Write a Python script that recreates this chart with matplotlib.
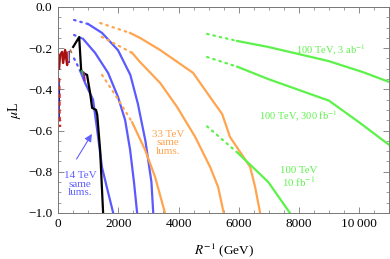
import matplotlib
matplotlib.use("Agg")
import matplotlib.pyplot as plt
from matplotlib.ticker import MultipleLocator, FixedLocator

plt.rcParams['font.family'] = ['Liberation Serif', 'DejaVu Serif']
plt.rcParams['mathtext.fontset'] = 'stix'

# 14 TeV (синие)
b1_dot_x = [530, 650, 760]
b1_dot_y = [-0.25, -0.285, -0.32]
b1_x = [760, 900, 1160, 1300, 1460, 1660, 1830]
b1_y = [-0.32, -0.37, -0.45, -0.6, -0.78, -0.9, -1.0]
b2_dot_x = [530, 830]
b2_dot_y = [-0.136, -0.155]
b2_x = [830, 1230, 1660, 1990, 2226, 2392, 2520, 2625]
b2_y = [-0.155, -0.223, -0.32, -0.437, -0.549, -0.694, -0.85, -1.0]
b3_dot_x = [530, 1000]
b3_dot_y = [-0.063, -0.083]
b3_x = [1000, 1460, 1990, 2400, 2650, 2900, 3100, 3160]
b3_y = [-0.083, -0.126, -0.21, -0.33, -0.47, -0.65, -0.85, -1.0]

# 33 TeV (оранжевые)
o1_dot_x = [1460, 2000, 2460]
o1_dot_y = [-0.33, -0.45, -0.56]
o1_x = [2460, 2890, 3220, 3550]
o1_y = [-0.56, -0.694, -0.825, -1.0]
o2_dot_x = [1450, 2460]
o2_dot_y = [-0.145, -0.223]
o2_x = [2460, 2720, 3390, 3950, 4550, 5050, 5316, 5500]
o2_y = [-0.223, -0.267, -0.369, -0.485, -0.63, -0.777, -0.874, -1.0]
o3_dot_x = [1400, 2390]
o3_dot_y = [-0.078, -0.126]
o3_x = [2390, 2720, 3390, 4485, 4950, 5450, 5710, 6380, 6545, 6710]
o3_y = [-0.126, -0.15, -0.209, -0.32, -0.417, -0.52, -0.631, -0.777, -0.874, -1.0]

# 100 TeV (зелёные)
g1_dot_x = [4950, 5950]
g1_dot_y = [-0.131, -0.165]
g1_x = [5950, 6980, 8970, 10100, 11000]
g1_y = [-0.165, -0.194, -0.262, -0.315, -0.364]
g2_dot_x = [4950, 5950]
g2_dot_y = [-0.243, -0.29]
g2_x = [5950, 6980, 9000, 10000, 11000]
g2_y = [-0.29, -0.35, -0.455, -0.56, -0.67]
g3_dot_x = [4950, 5980]
g3_dot_y = [-0.58, -0.71]
g3_x = [5980, 6980, 7700]
g3_y = [-0.71, -0.85, -1.0]

# текущие ограничения (слева)
black_x = [500, 700, 765, 830, 963, 1000, 1063, 1130, 1260, 1300, 1395, 1495]
black_y = [-0.194, -0.146, -0.306, -0.32, -0.33, -0.364, -0.417, -0.49, -0.5, -0.524, -0.694, -1.0]
red_x = [33, 66, 133, 166, 232, 300, 310]
red_y = [-0.30, -0.233, -0.218, -0.272, -0.209, -0.282, -0.223]
lep_blue_x = [10, 25, 15, 20]
lep_blue_y = [-0.354, -0.42, -0.49, -0.549]
lep_red_x = [33, 50, 45, 66]
lep_red_y = [-0.345, -0.43, -0.5, -0.583]

x_ticks = [0, 2000, 4000, 6000, 8000, 10000]
x_labels = ['0', '2000', '4000', '6000', '8000', '10\u2009000']
y_ticks = [0.0, -0.2, -0.4, -0.6, -0.8, -1.0]

BLUE = '#5a5aff'
ORANGE = '#ffa44f'
GREEN = '#5cf24a'

fig = plt.figure(figsize=(3.9, 2.59), dpi=100)
ax = fig.add_axes([0.149, 0.178, 0.849, 0.795])

dot = (0, (0.7, 2.2))
for dx, dy, sx, sy, c in [
        (b1_dot_x, b1_dot_y, b1_x, b1_y, BLUE),
        (b2_dot_x, b2_dot_y, b2_x, b2_y, BLUE),
        (b3_dot_x, b3_dot_y, b3_x, b3_y, BLUE),
        (o1_dot_x, o1_dot_y, o1_x, o1_y, ORANGE),
        (o2_dot_x, o2_dot_y, o2_x, o2_y, ORANGE),
        (o3_dot_x, o3_dot_y, o3_x, o3_y, ORANGE),
        (g1_dot_x, g1_dot_y, g1_x, g1_y, GREEN),
        (g2_dot_x, g2_dot_y, g2_x, g2_y, GREEN),
        (g3_dot_x, g3_dot_y, g3_x, g3_y, GREEN)]:
    ax.plot(dx, dy, color=c, lw=1.6, ls=dot, dash_capstyle='round')
    ax.plot(sx, sy, color=c, lw=1.6)

ax.plot(red_x, red_y, color='#aa1010', lw=1.7)
ax.plot([365, 365], [-0.218, -0.267], color='#7a2a8a', lw=1.5)
ax.plot([340, 350], [-0.22, -0.26], color='#aaaaaa', lw=1.0)
ax.plot([410, 440], [-0.21, -0.22], color='#a07848', lw=1.2)
ax.plot(black_x, black_y, color='black', lw=1.6)
ax.plot([790, 830], [-0.31, -0.33], color='#30c030', lw=1.3)
ax.plot([860, 880], [-0.32, -0.355], color='#8a2a9a', lw=1.5)
ax.plot(lep_blue_x, lep_blue_y, color='#1010cc', lw=1.8)
ax.plot(lep_red_x, lep_red_y, color='#dd2020', lw=1.6, ls=(0, (2, 1.5)))

ax.text(9040, -0.209, '100 TeV, 3 ab$^{-1}$', color=GREEN, fontsize=7.5,
        ha='center', va='center')
ax.text(7970, -0.534, '100 TeV, 300 fb$^{-1}$', color=GREEN, fontsize=7.5,
        ha='center', va='center')
ax.text(8000, -0.83, '100 TeV\n10 fb$^{-1}$', color=GREEN, fontsize=7.8,
        ha='center', va='center', linespacing=1.0)
ax.text(3650, -0.66, '33 TeV\nsame\nlums.', color=ORANGE, fontsize=8,
        ha='center', va='center', linespacing=0.95)
ax.text(730, -0.86, '14 TeV\nsame\nlums.', color='#6060ff', fontsize=8,
        ha='center', va='center', linespacing=0.95)
ax.annotate('', xy=(1170, -0.605), xytext=(565, -0.75),
            arrowprops=dict(arrowstyle='-|>', color='#6060ff', lw=0.8,
                            mutation_scale=11))

ax.set_xlim(0, 11000)
ax.set_ylim(-1.0, 0.0)
ax.xaxis.set_major_locator(FixedLocator(x_ticks))
ax.set_xticklabels(x_labels)
ax.xaxis.set_minor_locator(MultipleLocator(500))
ax.yaxis.set_major_locator(FixedLocator(y_ticks))
ax.set_yticklabels(['%.1f' % v if v == 0 else '\u2212%.1f' % abs(v) for v in y_ticks])
ax.yaxis.set_minor_locator(MultipleLocator(0.05))
ax.tick_params(which='both', direction='in', top=True, right=True,
               color='#777777', labelsize=9.5, pad=4)
ax.tick_params(which='major', length=4, width=0.6)
ax.tick_params(which='minor', length=2.2, width=0.5)
for s in ax.spines.values():
    s.set_color('#777777')
    s.set_linewidth(0.7)

ax.set_xlabel('$R^{-1}$ (GeV)', fontsize=9.5, labelpad=8)
ax.set_ylabel('$\\mu$L', fontsize=10, labelpad=4)

fig.savefig('out.png', dpi=100)
